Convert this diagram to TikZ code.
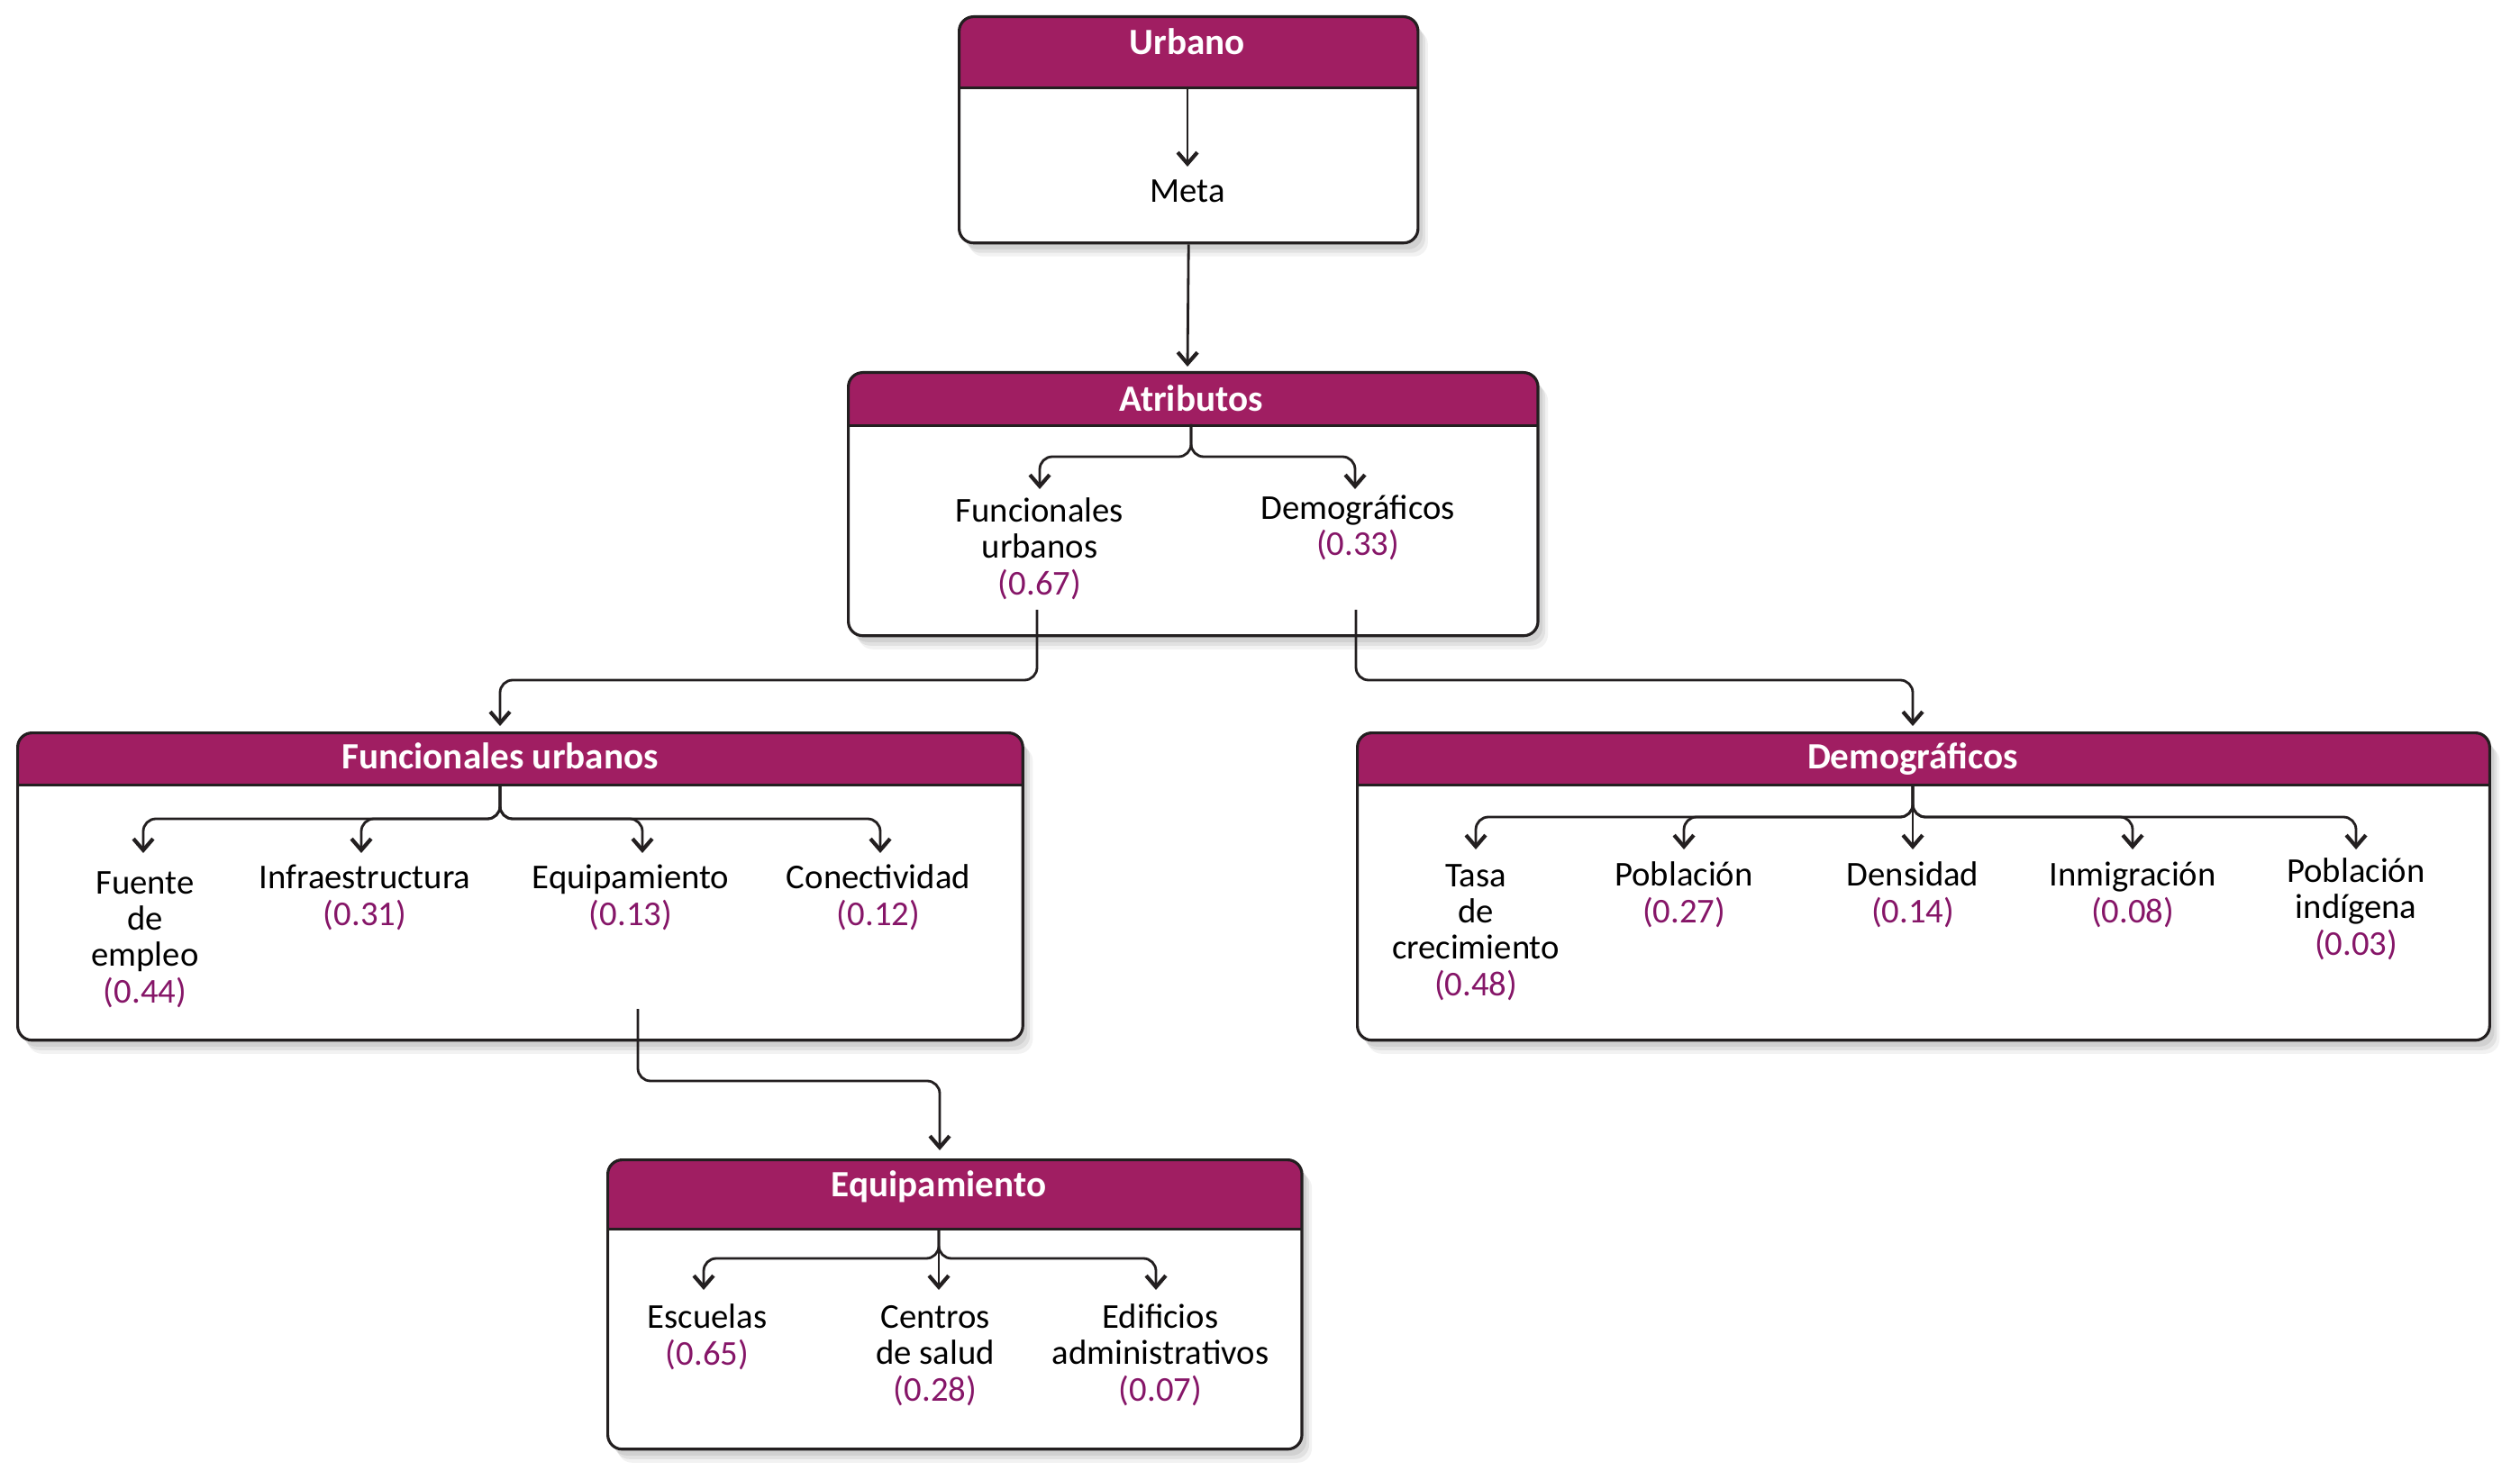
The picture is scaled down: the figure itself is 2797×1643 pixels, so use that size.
\documentclass[tikz,border=0pt]{standalone}
\usepackage{fontspec}
\setmainfont{Carlito}
\usetikzlibrary{arrows.meta,shadows}
\definecolor{headc}{RGB}{160,30,98}
\definecolor{numc}{RGB}{134,22,104}
\definecolor{edge}{RGB}{35,31,32}
\tikzset{
 softshadow/.style={
   general shadow={fill=black,opacity=0.07,shadow xshift=0.05cm,shadow yshift=-0.07cm},
   general shadow={fill=black,opacity=0.07,shadow xshift=0.08cm,shadow yshift=-0.11cm},
   general shadow={fill=black,opacity=0.05,shadow xshift=0.11cm,shadow yshift=-0.15cm}},
 card/.style={draw=edge,line width=0.9pt,rounded corners=0.16cm,fill=white,inner sep=0pt,
   anchor=north west,softshadow,
   path picture={
     \fill[headc,sharp corners] (path picture bounding box.north west) rectangle
        ([yshift=-#1]path picture bounding box.north east);
     \draw[edge,line width=0.9pt,sharp corners] ([yshift=-#1]path picture bounding box.north west) --
        ([yshift=-#1]path picture bounding box.north east);}},
 title/.style={font=\fontsize{11.7}{13}\selectfont\bfseries,text=white,anchor=base,inner sep=0pt},
 lbl/.style={font=\fontsize{11}{11.4}\selectfont,text=black,align=center,anchor=base,inner sep=0pt},
 conn/.style={draw=edge,line width=0.8pt,rounded corners=0.14cm,
   -{Straight Barb[length=3.6pt,width=6.2pt,line width=1.2pt]}},
}
\newcommand{\wt}[1]{\textcolor{numc}{#1}}
\begin{document}
\begin{tikzpicture}[x=0.01cm,y=0.01cm]
\useasboundingbox (0,0) rectangle (2797,-1643);

% ---------- Urbano ----------
\node[card=0.79cm,minimum width=5.09cm,minimum height=2.51cm] (urbano) at (1063,-17) {};
\node[title] (urbanoT) at (1318,-61) {Urbano};
\coordinate (urbanoH) at (1318,-96);
\node[lbl] (meta) at (1318,-225) {Meta};
\coordinate (metaTip) at (1318,-185);
\draw[conn] (urbanoH) -- (metaTip);

% ---------- Atributos ----------
\node[card=0.59cm,minimum width=7.65cm,minimum height=2.92cm] (atrib) at (940,-412) {};
\coordinate (atribIn) at (1318,-407);
\draw[conn] (urbano.south) -- (atribIn);
\node[title] (atribT) at (1322,-457) {Atributos};
\coordinate (atribH) at (1322,-471);
\coordinate (tFU) at (1154,-543);
\coordinate (tDE) at (1504,-543);
\draw[conn] (atribH) -- (1322,-507) -| (tFU);
\draw[conn] (atribH) -- (1322,-507) -| (tDE);
% anchor=base is the baseline of the last line
\node[lbl] (lFU) at (1154,-660) {Funcionales\\urbanos\\\wt{(0.67)}};
\node[lbl] (lDE) at (1507,-617) {Demográficos\\\wt{(0.33)}};

\coordinate (oFU) at (1151,-677);
\coordinate (iFU) at (555,-806);
\draw[conn] (oFU) -- (1151,-755) -| (iFU);
\coordinate (oDE) at (1505,-677);
\coordinate (iDE) at (2123,-806);
\draw[conn] (oDE) -- (1505,-755) -| (iDE);

% ---------- Funcionales urbanos ----------
\node[card=0.58cm,minimum width=11.15cm,minimum height=3.41cm] (func) at (18,-812) {};
\node[title] (funcT) at (555,-853) {Funcionales urbanos};
\coordinate (funcH) at (555,-870);
\coordinate (tF1) at (159,-947);
\coordinate (tF2) at (401,-947);
\coordinate (tF3) at (713,-947);
\coordinate (tF4) at (977,-947);
\foreach \t in {tF1,tF2,tF3,tF4}{\draw[conn] (funcH) -- (555,-909) -| (\t);}
\node[lbl] (lF1) at (161,-1113) {Fuente\\de\\empleo\\\wt{(0.44)}};
\node[lbl] (lF2) at (405,-1027) {Infraestructura\\\wt{(0.31)}};
\node[lbl] (lF3) at (700,-1027) {Equipamiento\\\wt{(0.13)}};
\node[lbl] (lF4) at (975,-1027) {Conectividad\\\wt{(0.12)}};

\coordinate (oEQ) at (708,-1120);
\coordinate (iEQ) at (1043,-1277);
\draw[conn] (oEQ) -- (708,-1200) -| (iEQ);

% ---------- Demograficos ----------
\node[card=0.58cm,minimum width=12.56cm,minimum height=3.41cm] (demo) at (1505,-812) {};
\node[title] (demoT) at (2123,-853) {Demográficos};
\coordinate (demoH) at (2123,-870);
\coordinate (tD1) at (1638,-943);
\coordinate (tD2) at (1869,-943);
\coordinate (tD3) at (2123,-943);
\coordinate (tD4) at (2367,-943);
\coordinate (tD5) at (2615,-943);
\foreach \t in {tD1,tD2,tD4,tD5}{\draw[conn] (demoH) -- (2123,-907) -| (\t);}
\draw[conn] (demoH) -- (tD3);
\node[lbl] (lD1) at (1638,-1105) {Tasa\\de\\crecimiento\\\wt{(0.48)}};
\node[lbl] (lD2) at (1869,-1024) {Población\\\wt{(0.27)}};
\node[lbl] (lD3) at (2123,-1024) {Densidad\\\wt{(0.14)}};
\node[lbl] (lD4) at (2367,-1024) {Inmigración\\\wt{(0.08)}};
\node[lbl] (lD5) at (2615,-1060) {Población\\indígena\\\wt{(0.03)}};

% ---------- Equipamiento ----------
\node[card=0.77cm,minimum width=7.70cm,minimum height=3.21cm] (equip) at (673,-1286) {};
\node[title] (equipT) at (1042,-1328) {Equipamiento};
\coordinate (equipH) at (1042,-1363);
\coordinate (tE1) at (781,-1432);
\coordinate (tE2) at (1042,-1432);
\coordinate (tE3) at (1283,-1432);
\draw[conn] (equipH) -- (1042,-1397) -| (tE1);
\draw[conn] (equipH) -- (1042,-1397) -| (tE3);
\draw[conn] (equipH) -- (tE2);
\node[lbl] (lE1) at (785,-1515) {Escuelas\\\wt{(0.65)}};
\node[lbl] (lE2) at (1038,-1555) {Centros\\de salud\\\wt{(0.28)}};
\node[lbl] (lE3) at (1288,-1555) {Edificios\\administrativos\\\wt{(0.07)}};
\end{tikzpicture}
\end{document}
